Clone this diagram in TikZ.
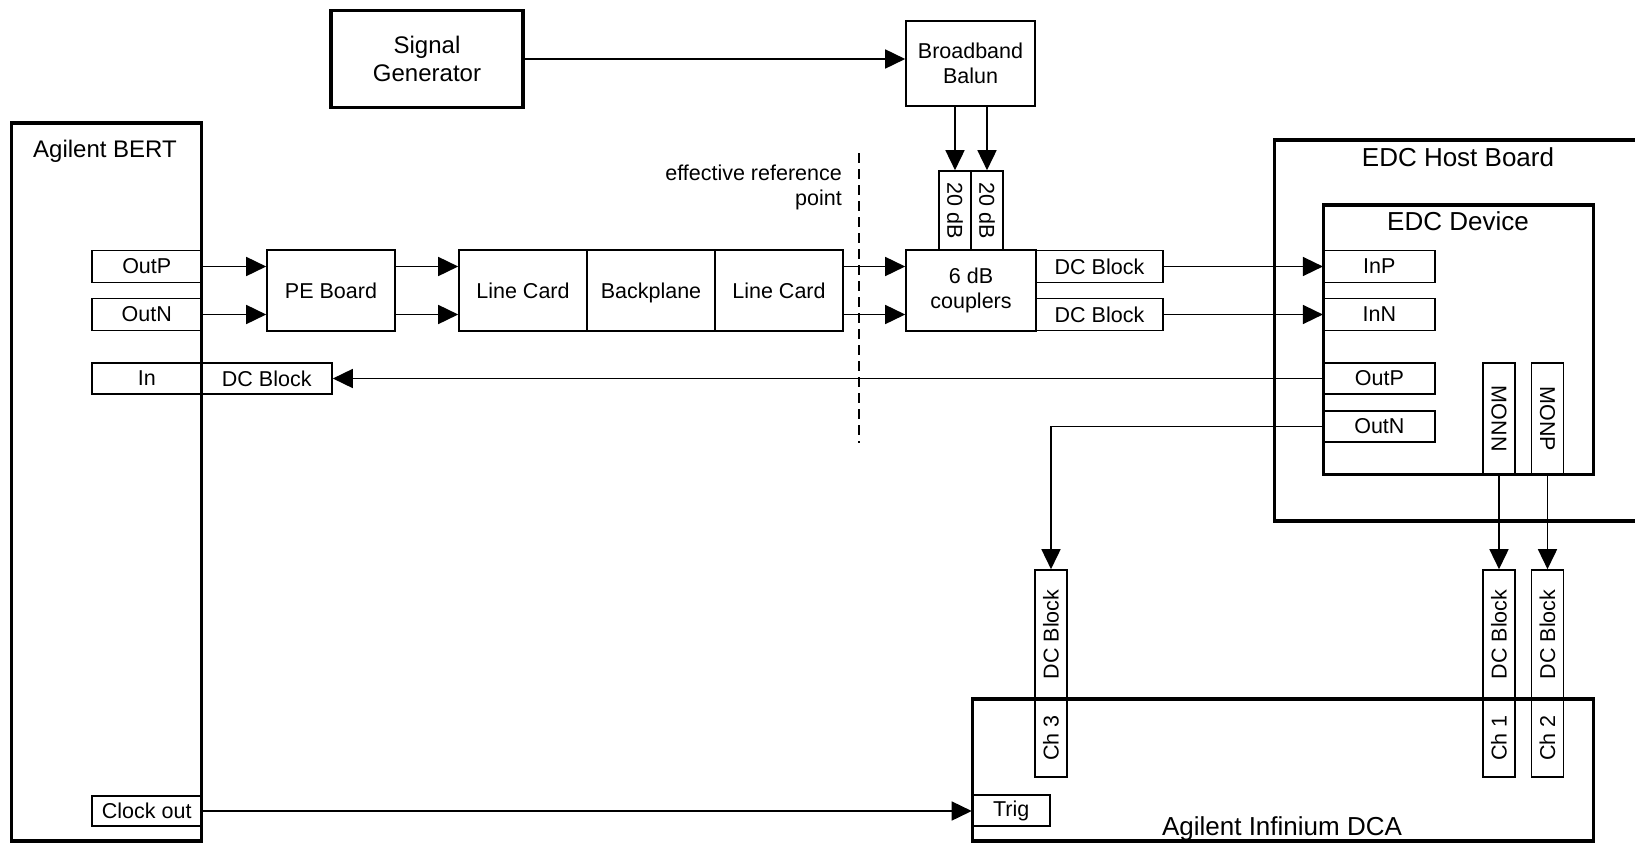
\documentclass[tikz,border=0pt]{standalone}
\usepackage{fontspec}
\setmainfont{Liberation Sans}
\usetikzlibrary{arrows.meta}

\newcommand{\portfont}{\fontsize{21.5}{25}\selectfont}
\newcommand{\unitfont}{\fontsize{24}{28}\selectfont}
\newcommand{\boardfont}{\fontsize{26}{30}\selectfont}

\begin{document}
\begin{tikzpicture}[x=1pt, y=-1pt,
    blk/.style={draw, line width=1.6pt, inner sep=0pt, align=center, font=\portfont},
    unit/.style={draw, line width=3.5pt, inner sep=0pt},
    wire/.style={line width=1.6pt},
    sig/.style={wire, -{Triangle[length=20pt, width=19pt]}}]
    \useasboundingbox (0,0) rectangle (1635,843);
    \clip (0,0) rectangle (1635,843);

    % instruments and boards
    \node[unit, minimum width=190pt, minimum height=718pt] (bert) at (106.5,482) {};
    \node[font=\unitfont, anchor=base] (berttxt) at (105,157) {Agilent BERT};
    \node[unit, minimum width=192pt, minimum height=97pt, align=center, font=\unitfont] (sg) at (427,59) {Signal\\Generator};
    \node[unit, minimum width=425.3pt, minimum height=381pt] (host) at (1487.35,330.5) {};
    \node[font=\boardfont, anchor=base] (hosttxt) at (1458,166.5) {EDC Host Board};
    \node[unit, minimum width=270pt, minimum height=269.5pt] (edc) at (1458.7,339.75) {};
    \node[font=\boardfont, anchor=base] (edctxt) at (1458,230) {EDC Device};
    \node[unit, minimum width=621.2pt, minimum height=142pt] (dca) at (1283.1,770) {};
    \node[font=\boardfont, anchor=base] (dcatxt) at (1282,835) {Agilent Infinium DCA};

    % BERT ports
    \node[blk, minimum width=109.5pt, minimum height=32pt] (outpb) at (146.75,266.5) {OutP};
    \node[blk, minimum width=109.5pt, minimum height=32pt] (outnb) at (146.75,314.5) {OutN};
    \node[blk, minimum width=109.5pt, minimum height=31pt] (inb) at (146.75,378.5) {In};
    \node[blk, minimum width=130.5pt, minimum height=31pt] (dcbb) at (266.75,378.5) {DC Block};
    \node[blk, minimum width=109.5pt, minimum height=30pt] (clk) at (146.75,811) {Clock out};

    % signal path
    \node[blk, minimum width=128pt, minimum height=81pt] (pe) at (331,290.5) {PE Board};
    \node[blk, minimum width=128pt, minimum height=81pt] (lc1) at (523,290.5) {Line Card};
    \node[blk, minimum width=128pt, minimum height=81pt, text depth=0pt] (bp) at (651,290.5) {Backplane};
    \node[blk, minimum width=128pt, minimum height=81pt] (lc2) at (779,290.5) {Line Card};
    \node[blk, minimum width=129pt, minimum height=85pt] (balun) at (970.5,63.5) {Broadband\\Balun};
    \node[blk, minimum width=32pt, minimum height=79pt] (att1) at (955,210.5) {\rotatebox{-90}{20 dB}};
    \node[blk, minimum width=32pt, minimum height=79pt] (att2) at (987,210.5) {\rotatebox{-90}{20 dB}};
    \node[blk, minimum width=130pt, minimum height=81pt] (cpl) at (971,290.5) {6 dB\\couplers};
    \node[blk, minimum width=127pt, minimum height=32pt] (dcbp) at (1099.5,266.5) {DC Block};
    \node[blk, minimum width=127pt, minimum height=32pt] (dcbn) at (1099.5,314.5) {DC Block};

    % EDC ports
    \node[blk, minimum width=111.3pt, minimum height=32pt] (inp) at (1379.35,266.5) {InP};
    \node[blk, minimum width=111.3pt, minimum height=32pt] (inn) at (1379.35,314.5) {InN};
    \node[blk, minimum width=111.3pt, minimum height=31pt] (outp) at (1379.35,378.5) {OutP};
    \node[blk, minimum width=111.3pt, minimum height=31pt] (outn) at (1379.35,426.5) {OutN};
    \node[blk, minimum width=32pt, minimum height=111.5pt] (monn) at (1499,418.75) {\rotatebox{-90}{MONN}};
    \node[blk, minimum width=32pt, minimum height=111.5pt] (monp) at (1547.5,418.75) {\rotatebox{-90}{MONP}};

    % DCA inputs
    \node[blk, minimum width=32pt, minimum height=129pt] (dcb3) at (1051,634.5) {\rotatebox{90}{DC Block}};
    \node[blk, minimum width=32pt, minimum height=78pt] (ch3) at (1051,738) {\rotatebox{90}{Ch 3}};
    \node[blk, minimum width=32pt, minimum height=129pt] (dcb1) at (1499,634.5) {\rotatebox{90}{DC Block}};
    \node[blk, minimum width=32pt, minimum height=78pt] (ch1) at (1499,738) {\rotatebox{90}{Ch 1}};
    \node[blk, minimum width=32pt, minimum height=129pt] (dcb2) at (1547.5,634.5) {\rotatebox{90}{DC Block}};
    \node[blk, minimum width=32pt, minimum height=78pt] (ch2) at (1547.5,738) {\rotatebox{90}{Ch 2}};
    \node[blk, minimum width=77.5pt, minimum height=31pt] (trig) at (1011.25,810.5) {Trig};

    % reference plane
    \coordinate (reftop) at (859,153);
    \coordinate (refbot) at (859,443);
    \draw[line width=1.5pt, dash pattern=on 10pt off 6pt] (reftop) -- (refbot);
    \node[font=\portfont, align=right, anchor=east, inner sep=0pt] (reftxt) at (842,187) {effective reference\\point};

    % connections
    \draw[sig] (sg.east) -- (sg.east -| balun.west);
    \draw[sig] (balun.south -| att1.north) -- (att1.north);
    \draw[sig] (balun.south -| att2.north) -- (att2.north);
    \draw[sig] (outpb.east) -- (outpb.east -| pe.west);
    \draw[sig] (outnb.east) -- (outnb.east -| pe.west);
    \draw[sig] (pe.east |- outpb) -- (lc1.west |- outpb);
    \draw[sig] (pe.east |- outnb) -- (lc1.west |- outnb);
    \draw[sig] (lc2.east |- outpb) -- (cpl.west |- outpb);
    \draw[sig] (lc2.east |- outnb) -- (cpl.west |- outnb);
    \draw[sig] (dcbp.east) -- (inp.west);
    \draw[sig] (dcbn.east) -- (inn.west);
    \draw[sig] (outp.west) -- (outp.west -| dcbb.east);
    \draw[sig] (outn.west) -| (dcb3.north);
    \draw[sig] (monn.south) -- (dcb1.north);
    \draw[sig] (monp.south) -- (dcb2.north);
    \draw[sig] (clk.east) -- (clk.east -| trig.west);
\end{tikzpicture}
\end{document}
